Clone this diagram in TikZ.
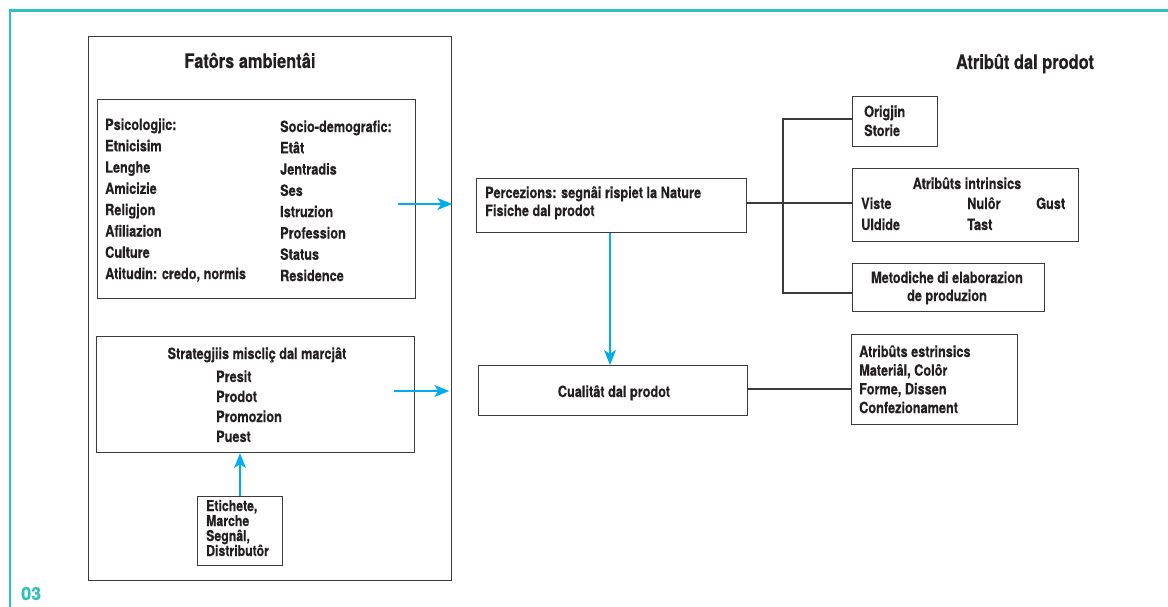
\documentclass[tikz,border=0pt]{standalone}
\usepackage{fontspec}
\setmainfont{TeX Gyre Heros}[FakeStretch=0.82, BoldFeatures={FakeBold=0.3}]
\newfontfamily\numfont{TeX Gyre Heros}[BoldFeatures={FakeBold=0.3}]
\usetikzlibrary{arrows.meta}
\definecolor{frameteal}{RGB}{46,192,190}
\definecolor{arrowblue}{RGB}{0,174,239}
\definecolor{ink}{RGB}{35,31,32}
\definecolor{boxline}{RGB}{60,60,60}
\tikzset{
  box/.style={draw=boxline, line width=1.3pt, rectangle, inner sep=0pt, anchor=north west},
  txt/.style={inner sep=0pt, text=ink, font=\bfseries\fontsize{15.5}{21.3}\selectfont, align=left},
  ttl/.style={inner sep=0pt, text=ink, font=\bfseries\fontsize{20}{22}\selectfont},
  arr/.style={draw=arrowblue, line width=1.4pt, -{Stealth[length=15pt,width=12pt,inset=4pt]}},
  conn/.style={draw=boxline, line width=1.2pt},
}
\begin{document}
\begin{tikzpicture}[x=1pt,y=-1pt]
\useasboundingbox (0,0) rectangle (1168,607);
% frame
\draw[frameteal, line width=2.6pt] (9,10.5) -- (1168,10.5);
\draw[frameteal, line width=2.6pt] (10,9.2) -- (10,607);
\node[inner sep=0pt, anchor=base west, text=frameteal, font=\numfont\bfseries\fontsize{18}{18}\selectfont] (num) at (21,600) {03};
% boxes
\node[box, minimum width=363pt, minimum height=544pt] (outer) at (88,36) {};
\node[box, line width=1.2pt, minimum width=318pt, minimum height=199pt] (psyc) at (97,99) {};
\node[box, line width=1.2pt, minimum width=318pt, minimum height=116pt] (strat) at (96,336) {};
\node[box, line width=1.2pt, minimum width=85pt, minimum height=69pt] (etich) at (197,496) {};
\node[box, line width=1.2pt, minimum width=270pt, minimum height=54pt] (perc) at (476,178) {};
\node[box, line width=1.2pt, minimum width=269pt, minimum height=50pt] (cual) at (478,365) {};
\node[box, line width=1.2pt, minimum width=85pt, minimum height=50pt] (orig) at (852,96) {};
\node[box, line width=1.2pt, minimum width=226pt, minimum height=73pt] (intr) at (852,168) {};
\node[box, line width=1.2pt, minimum width=192pt, minimum height=48pt] (meto) at (852,263) {};
\node[box, line width=1.2pt, minimum width=166pt, minimum height=90pt] (estr) at (851,334) {};
% titles
\node[ttl, anchor=base] (t1) at (250,68) {Fatôrs ambientâi};
\node[ttl, anchor=base] (t2) at (1025,69) {Atribût dal prodot};
% texts (base anchor = baseline of last line)
\node[txt, anchor=base west] (psl) at (105,279.1) {Psicologjic:\\Etnicisim\\Lenghe\\Amicizie\\Religjon\\Afiliazion\\Culture\\Atitudin: credo, normis};
\node[txt, anchor=base west] (psr) at (280,281.1) {Socio-demografic:\\Etât\\Jentradis\\Ses\\Istruzion\\Profession\\Status\\Residence};
\node[txt, anchor=base] (stt) at (257,359) {Strategjiis miscliç dal marcjât};
\node[txt, anchor=base west, font=\bfseries\fontsize{15.5}{20}\selectfont] (sti) at (216,442) {Presit\\Prodot\\Promozion\\Puest};
\node[txt, anchor=base west, font=\bfseries\fontsize{15}{15}\selectfont] (etx) at (206,556) {Etichete,\\Marche\\Segnâl,\\Distributôr};
\node[txt, anchor=base west, font=\bfseries\fontsize{15.5}{18}\selectfont] (pct) at (485,216) {Percezions: segnâi rispiet la Nature\\Fisiche dal prodot};
\node[txt, anchor=base] (cut) at (614,397) {Cualitât dal prodot};
\node[txt, anchor=base west, font=\bfseries\fontsize{15.5}{19}\selectfont] (ort) at (864,136) {Origjin\\Storie};
\node[txt, anchor=base] (int) at (967,189) {Atribûts intrinsics};
\node[txt, anchor=base west] (iv) at (861,209) {Viste};
\node[txt, anchor=base west] (iu) at (861,230) {Uldide};
\node[txt, anchor=base west] (in) at (967,209) {Nulôr};
\node[txt, anchor=base west] (it) at (967,230) {Tast};
\node[txt, anchor=base west] (ig) at (1036,209) {Gust};
\node[txt, anchor=base, align=center, font=\bfseries\fontsize{15.5}{18}\selectfont] (mtt) at (947,301) {Metodiche di elaborazion\\de produzion};
\node[txt, anchor=base west, font=\bfseries\fontsize{15.5}{18.7}\selectfont] (est) at (859,413.1) {Atribûts estrinsics\\Materiâl, Colôr\\Forme, Dissen\\Confezionament};
% connectors
\coordinate (a1) at (398,204);
\coordinate (a2) at (394,391);
\coordinate (cx) at (610,0);
\coordinate (ux) at (240,0);
\coordinate (bx) at (783,0);
\draw[arr] (a1) -- (a1 -| outer.east);
\draw[arr] (a2) -- ([xshift=-3pt]a2 -| outer.east);
\draw[arr] (perc.south -| cx) -- (cual.north -| cx);
\draw[arr] (etich.north -| ux) -- (strat.south -| ux);
\coordinate (p1) at (perc.east |- 0,203);
\draw[conn] (p1) -- (p1 -| intr.west);
\draw[conn] (orig.west |- 0,119) -| (bx |- 0,293) -- (meto.west |- 0,293);
\draw[conn] (cual.east |- 0,389) -- (estr.west |- 0,389);
\end{tikzpicture}
\end{document}
